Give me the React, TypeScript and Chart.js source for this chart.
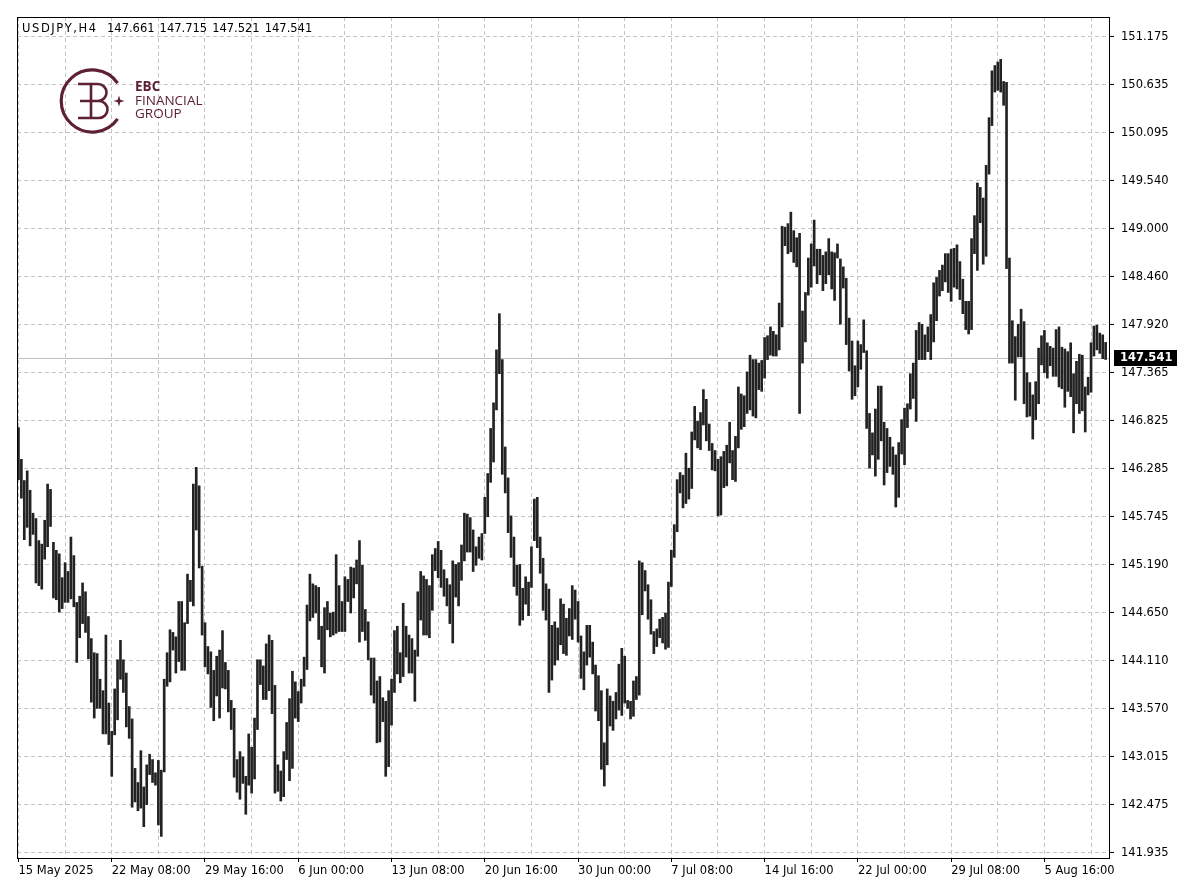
import React, { useEffect, useRef } from "react";
import { Chart, registerables } from "chart.js";

Chart.register(...registerables);

const SYMBOL = "USDJPY,H4";
const LAST_OHLC = [147.661, 147.715, 147.521, 147.541];
const LAST_PRICE = 147.541;

const Y_MIN = 141.875;
const Y_MAX = 151.4;
const yTickLabels = [
  "141.935", "142.475", "143.015", "143.570", "144.110", "144.650",
  "145.190", "145.745", "146.285", "146.825", "147.365", "147.920",
  "148.460", "149.000", "149.540", "150.095", "150.635", "151.175",
];
const Y_TICK_FIRST = 141.935;
const Y_TICK_LAST = 151.175;

const xTickLabels = [
  "15 May 2025", "22 May 08:00", "29 May 16:00", "6 Jun 00:00",
  "13 Jun 08:00", "20 Jun 16:00", "30 Jun 00:00", "7 Jul 08:00",
  "14 Jul 16:00", "22 Jul 00:00", "29 Jul 08:00", "5 Aug 16:00",
];
const X_LABEL_EVERY = 32;
const X_GRID_EVERY = 16;
const SLOTS = 375;

const highs = [
  146.75, 146.39, 146.15, 146.26, 146.04, 145.78, 145.72, 145.47, 145.43, 145.70,
  146.11, 146.05, 145.45, 145.36, 145.32, 145.05, 145.22, 145.12, 145.51, 145.30,
  144.77, 144.84, 144.99, 144.89, 144.61, 144.36, 144.20, 144.19, 143.90, 143.77,
  144.40, 143.63, 143.31, 143.79, 144.12, 144.34, 144.12, 143.97, 143.59, 143.45,
  142.89, 142.73, 143.09, 142.68, 142.93, 143.05, 142.99, 142.84, 142.98, 142.87,
  143.90, 144.20, 144.46, 144.43, 144.38, 144.78, 144.78, 144.54, 145.09, 145.02,
  146.11, 146.30, 146.09, 145.18, 144.54, 144.27, 144.21, 144.00, 144.16, 144.23,
  144.45, 144.09, 144.00, 143.66, 143.57, 142.99, 143.08, 143.02, 142.80, 143.28,
  143.13, 143.46, 144.12, 144.12, 144.05, 144.30, 144.40, 144.34, 143.83, 142.93,
  142.86, 143.08, 143.41, 143.68, 143.99, 143.87, 143.76, 143.90, 144.15, 144.74,
  145.09, 144.98, 144.96, 144.94, 144.50, 144.71, 144.78, 144.65, 144.66, 145.31,
  144.96, 144.78, 145.06, 145.03, 145.17, 145.16, 145.25, 145.47, 145.19, 144.69,
  144.55, 144.14, 144.14, 143.88, 143.93, 143.69, 143.65, 143.77, 143.90, 144.45,
  144.50, 144.20, 144.76, 144.50, 144.40, 144.36, 144.23, 144.89, 145.12, 145.07,
  145.03, 144.96, 145.31, 145.38, 145.46, 145.36, 145.14, 145.04, 144.97, 145.24,
  145.20, 145.22, 145.42, 145.78, 145.77, 145.73, 145.59, 145.40, 145.51, 145.55,
  145.96, 146.23, 146.74, 147.03, 147.63, 148.04, 147.52, 146.53, 146.18, 145.75,
  145.51, 145.19, 145.20, 144.93, 145.06, 145.00, 145.40, 145.94, 145.96, 145.51,
  145.27, 144.98, 144.92, 144.51, 144.55, 144.48, 144.81, 144.75, 144.59, 144.70,
  144.96, 144.91, 144.78, 144.39, 144.21, 144.51, 144.51, 144.32, 144.06, 143.94,
  143.77, 143.18, 143.79, 143.71, 143.65, 143.75, 144.07, 144.25, 144.16, 143.66,
  143.65, 143.88, 143.93, 145.24, 145.22, 145.13, 144.97, 144.80, 144.44, 144.47,
  144.58, 144.60, 144.65, 145.00, 145.36, 145.65, 146.16, 146.24, 146.21, 146.46,
  146.29, 146.70, 146.99, 146.82, 146.92, 147.18, 147.07, 146.79, 146.57, 146.49,
  146.39, 146.42, 146.48, 146.55, 146.81, 146.49, 146.65, 147.21, 147.13, 147.11,
  147.38, 147.57, 147.52, 147.52, 147.48, 147.51, 147.77, 147.79, 147.89, 147.84,
  147.80, 148.16, 149.03, 149.02, 149.06, 149.19, 148.98, 148.90, 148.95, 148.07,
  148.28, 148.67, 148.83, 149.10, 148.77, 148.77, 148.70, 148.74, 148.89, 148.74,
  148.73, 148.83, 148.66, 148.57, 148.44, 147.99, 147.73, 147.45, 147.73, 147.69,
  147.97, 147.62, 146.91, 146.69, 146.96, 147.22, 147.22, 146.81, 146.74, 146.64,
  146.53, 146.44, 146.58, 146.84, 146.97, 147.02, 147.36, 147.48, 147.85, 147.94,
  147.92, 147.80, 147.89, 148.03, 148.39, 148.45, 148.53, 148.59, 148.72, 148.72,
  148.77, 148.78, 148.82, 148.63, 148.43, 148.18, 148.18, 148.89, 149.15, 149.52,
  149.47, 149.35, 149.72, 150.26, 150.79, 150.85, 150.89, 150.92, 150.67, 150.66,
  148.67, 147.96, 147.78, 147.92, 148.09, 147.95, 147.37, 147.26, 147.12, 147.27,
  147.65, 147.79, 147.85, 147.71, 147.67, 147.65, 147.86, 147.89, 147.66, 147.64,
  147.61, 147.71, 147.36, 147.50, 147.58, 147.57, 147.21, 147.32, 147.71, 147.90,
  147.91, 147.82, 147.80, 147.715,
];

const lows = [
  146.16, 145.95, 145.48, 145.62, 145.41, 145.54, 144.99, 144.96, 144.92, 145.26,
  145.40, 145.63, 144.82, 144.80, 144.66, 144.70, 144.77, 144.77, 144.81, 144.72,
  144.09, 144.37, 144.53, 144.43, 144.13, 143.64, 143.46, 143.57, 143.57, 143.28,
  143.28, 143.16, 142.80, 143.27, 143.44, 143.90, 143.75, 143.36, 143.23, 142.45,
  142.51, 142.41, 142.44, 142.23, 142.48, 142.82, 142.73, 142.70, 142.25, 142.12,
  142.85, 143.82, 143.87, 144.23, 143.97, 144.10, 144.00, 144.00, 144.53, 144.78,
  144.73, 145.59, 145.16, 144.40, 144.04, 143.96, 143.58, 143.43, 143.71, 143.46,
  143.80, 143.79, 143.53, 143.33, 142.79, 142.62, 142.54, 142.72, 142.37, 142.70,
  142.61, 142.77, 143.33, 143.84, 143.67, 143.67, 143.77, 143.51, 142.61, 142.63,
  142.52, 142.57, 142.99, 142.75, 142.89, 143.46, 143.42, 143.63, 143.82, 144.01,
  144.56, 144.60, 144.65, 144.35, 144.04, 143.97, 144.46, 144.38, 144.40, 144.42,
  144.44, 144.44, 144.44, 144.78, 144.65, 144.82, 144.98, 144.32, 144.44, 144.34,
  144.12, 143.72, 143.63, 143.18, 143.19, 143.42, 142.80, 142.91, 143.38, 143.75,
  143.96, 143.86, 143.93, 144.15, 143.97, 143.97, 143.65, 144.16, 144.57, 144.40,
  144.40, 144.37, 144.68, 145.13, 145.05, 144.94, 144.84, 144.73, 144.53, 144.31,
  144.83, 144.73, 145.02, 145.24, 145.34, 145.34, 145.12, 145.19, 145.27, 145.25,
  145.55, 145.74, 146.13, 146.36, 146.95, 147.36, 146.22, 146.01, 145.56, 145.28,
  144.95, 144.85, 144.51, 144.57, 144.75, 144.62, 144.94, 145.47, 145.39, 145.10,
  144.68, 144.57, 143.75, 143.89, 144.06, 144.12, 144.29, 144.19, 144.17, 144.39,
  144.35, 144.58, 144.32, 143.91, 143.78, 144.06, 144.15, 143.96, 143.54, 143.43,
  142.88, 142.69, 142.93, 143.37, 143.32, 143.45, 143.55, 143.49, 143.63, 143.57,
  143.45, 143.48, 143.67, 143.72, 144.63, 144.90, 144.58, 144.41, 144.19, 144.27,
  144.37, 144.31, 144.24, 144.26, 144.95, 145.28, 145.57, 146.01, 145.84, 145.89,
  145.94, 146.06, 146.61, 146.52, 146.50, 146.78, 146.60, 146.49, 146.27, 146.26,
  145.75, 145.76, 146.07, 146.09, 146.35, 146.16, 146.14, 146.52, 146.73, 146.76,
  146.91, 146.95, 146.88, 146.86, 147.18, 147.16, 147.31, 147.52, 147.57, 147.56,
  147.56, 147.63, 147.89, 148.81, 148.72, 148.74, 148.62, 148.57, 146.91, 147.48,
  147.72, 148.25, 148.34, 148.58, 148.38, 148.48, 148.30, 148.38, 148.48, 148.32,
  148.19, 148.67, 147.92, 148.33, 147.69, 147.39, 147.07, 147.11, 147.21, 147.41,
  147.60, 146.74, 146.29, 146.44, 146.20, 146.39, 146.60, 146.10, 146.24, 146.31,
  146.22, 145.85, 145.96, 146.45, 146.33, 146.75, 146.96, 147.08, 146.82, 147.52,
  147.52, 147.52, 147.61, 147.52, 147.72, 147.96, 148.24, 148.30, 148.40, 148.28,
  148.18, 148.34, 148.32, 148.20, 148.04, 147.86, 147.81, 147.86, 148.72, 148.53,
  149.07, 148.60, 148.69, 149.62, 150.17, 150.55, 150.57, 150.55, 150.40, 148.55,
  147.48, 147.48, 147.06, 147.55, 147.55, 147.02, 146.87, 146.88, 146.62, 146.84,
  147.02, 147.46, 147.37, 147.31, 147.45, 147.33, 147.33, 147.21, 147.19, 146.98,
  147.16, 147.10, 146.69, 147.02, 146.91, 146.94, 146.70, 147.12, 147.15, 147.56,
  147.63, 147.59, 147.53, 147.521,
];

const FONT = '"DejaVu Sans", Verdana, sans-serif';
const MAROON = "#5e2035";

const priceLinePlugin = {
  id: "priceLine",
  beforeDatasetsDraw(chart: any) {
    const { ctx, chartArea: a, scales } = chart;
    const y = Math.round(scales.y.getPixelForValue(LAST_PRICE)) + 0.5;
    ctx.save();
    ctx.strokeStyle = "#c0c0c0";
    ctx.lineWidth = 1;
    ctx.beginPath();
    ctx.moveTo(a.left, y);
    ctx.lineTo(a.right, y);
    ctx.stroke();
    ctx.restore();
  },
  afterDraw(chart: any) {
    const { ctx, chartArea: a, scales } = chart;
    const y = Math.round(scales.y.getPixelForValue(LAST_PRICE));
    ctx.save();
    ctx.strokeStyle = "#000";
    ctx.lineWidth = 1;
    ctx.strokeRect(a.left + 0.5, a.top + 0.5, a.right - a.left - 1, a.bottom - a.top);
    ctx.fillStyle = "#000";
    ctx.fillRect(a.right + 4, y - 8, 63, 16);
    ctx.fillStyle = "#fff";
    ctx.font = `bold 11.5px ${FONT}`;
    ctx.textBaseline = "middle";
    ctx.textAlign = "left";
    ctx.fillText(LAST_PRICE.toFixed(3), a.right + 10, y + 0.5);
    ctx.restore();
  },
};

export default function App() {
  const ref = useRef<HTMLCanvasElement>(null);

  useEffect(() => {
    const labels = Array.from({ length: SLOTS }, (_, i) => String(i));
    const bars = highs.map((h, i) => [lows[i], h]);
    const yStep = (Y_TICK_LAST - Y_TICK_FIRST) / (yTickLabels.length - 1);

    const chart = new Chart(ref.current as HTMLCanvasElement, {
      type: "bar",
      data: {
        labels,
        datasets: [
          {
            data: bars as any,
            backgroundColor: "#222222",
            borderWidth: 0,
            barThickness: 2,
          },
        ],
      },
      options: {
        responsive: false,
        animation: false,
        devicePixelRatio: 1,
        layout: { padding: { left: 17, top: 17, right: 0, bottom: 0 } },
        plugins: { legend: { display: false }, tooltip: { enabled: false } },
        scales: {
          x: {
            type: "category",
            offset: true,
            afterBuildTicks: (scale: any) => {
              const t: any[] = [];
              for (let v = 0; v < SLOTS - 1; v += X_GRID_EVERY) t.push({ value: v });
              scale.ticks = t;
            },
            afterFit: (scale: any) => {
              scale.height = 38;
            },
            grid: {
              offset: false,
              color: "#c4c4c4",
              lineWidth: 1,
              drawTicks: true,
              tickLength: 4,
              tickColor: (c: any) =>
                c.tick && c.tick.value % X_LABEL_EVERY === 0 ? "#000" : "rgba(0,0,0,0)",
              tickBorderDash: [],
            },
            border: { display: false, dash: [4, 3] },
            ticks: {
              autoSkip: false,
              maxRotation: 0,
              minRotation: 0,
              align: "start",
              padding: 2,
              color: "#000",
              font: { family: FONT, size: 11.5 },
              callback: (v: any) =>
                Number(v) % X_LABEL_EVERY === 0 ? xTickLabels[Number(v) / X_LABEL_EVERY] || "" : "",
            },
          },
          y: {
            type: "linear",
            position: "right",
            min: Y_MIN,
            max: Y_MAX,
            bounds: "data",
            afterBuildTicks: (scale: any) => {
              scale.ticks = yTickLabels.map((_, i) => ({ value: Y_TICK_FIRST + i * yStep }));
            },
            afterFit: (scale: any) => {
              scale.width = 90;
            },
            grid: {
              color: "#c4c4c4",
              lineWidth: 1,
              drawTicks: true,
              tickLength: 4,
              tickColor: "#000",
              tickBorderDash: [],
            },
            border: { display: false, dash: [4, 3] },
            ticks: {
              autoSkip: false,
              padding: 7,
              color: "#000",
              font: { family: FONT, size: 11.5 },
              callback: (_v: any, i: number) => yTickLabels[i],
            },
          },
        },
      } as any,
      plugins: [priceLinePlugin],
    });
    return () => chart.destroy();
  }, []);

  return (
    <div
      style={{
        position: "absolute",
        left: 0,
        top: 0,
        width: 1200,
        height: 896,
        background: "#fff",
        overflow: "hidden",
      }}
    >
      <canvas
        ref={ref}
        width={1200}
        height={896}
        style={{ position: "absolute", left: 0, top: 0, width: 1200, height: 896 }}
      />
      <div
        style={{
          position: "absolute",
          left: 22,
          top: 20,
          fontFamily: FONT,
          fontSize: 11.5,
          lineHeight: "16px",
          color: "#000",
          whiteSpace: "pre",
          display: "flex",
        }}
      >
        <span style={{ letterSpacing: 1.6, width: 85 }}>{SYMBOL}</span>
        {LAST_OHLC.map((v, i) => (
          <span key={i} style={{ marginRight: 5 }}>
            {v.toFixed(3)}
          </span>
        ))}
      </div>
      <svg
        width={80}
        height={80}
        viewBox="55 61 80 80"
        style={{ position: "absolute", left: 55, top: 61 }}
      >
        <path
          d="M117.6 83.2 A31 31 0 1 0 117.6 118.8"
          fill="none"
          stroke={MAROON}
          strokeWidth={3.2}
        />
        <path
          d="M91 84 V118 M78 84 H91 M80 101 H91 M78 118 H91 M91 84 H98 A8.5 8.5 0 0 1 98 101 H91 M91 101 H99 A8.5 8.5 0 0 1 99 118 H91"
          fill="none"
          stroke={MAROON}
          strokeWidth={2.6}
          strokeLinejoin="round"
        />
        <path
          d="M119 95.5 L120.3 99.7 L124.5 101 L120.3 102.3 L119 106.5 L117.7 102.3 L113.5 101 L117.7 99.7 Z"
          fill={MAROON}
        />
      </svg>
      <div
        style={{
          position: "absolute",
          left: 135,
          top: 80,
          fontFamily: '"Open Sans", sans-serif',
          fontSize: 13.5,
          lineHeight: "13.5px",
          color: MAROON,
        }}
      >
        <div style={{ fontWeight: 700 }}>EBC</div>
        <div>FINANCIAL</div>
        <div>GROUP</div>
      </div>
    </div>
  );
}
